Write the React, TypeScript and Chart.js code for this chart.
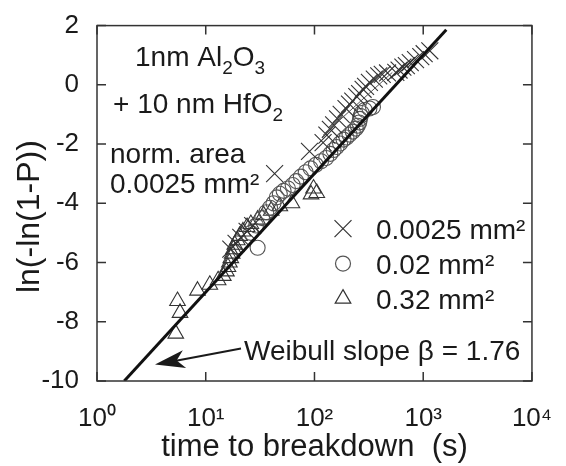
import React, { useEffect, useRef } from 'react';
import { Chart, registerables } from 'chart.js';

Chart.register(...registerables);

const FONT = '"Liberation Sans", Arial, Helvetica, sans-serif';
const INK = '#1a1a1a';

// axis ticks
const xTicks = [1, 10, 100, 1000, 10000];
const xTickLabels = ['10⁰', '10¹', '10²', '10³', '10⁴'];
const yTicks = [-10, -8, -6, -4, -2, 0, 2];

// legend labels
const seriesLabels = ['0.0025 mm²', '0.02 mm²', '0.32 mm²'];

// 0.0025 mm² (crosses)
const crossT = [17, 19, 21, 24, 27, 43, 90, 120, 130, 140, 150, 163, 176, 195, 210, 225, 245, 260, 280, 295, 320, 355, 390, 420, 470, 560, 600, 650, 700, 760, 850, 950, 1020, 1150];
const crossY = [-5.55, -5.35, -5.15, -4.95, -4.75, -3.0, -2.25, -1.95, -1.7, -1.5, -1.35, -1.15, -1.0, -0.8, -0.65, -0.55, -0.4, -0.3, -0.15, -0.05, 0.08, 0.19, 0.3, 0.35, 0.4, 0.42, 0.5, 0.6, 0.65, 0.75, 0.85, 0.95, 1.05, 1.15];

// 0.02 mm² (circles)
const circleT = [26, 29, 30, 33, 36, 39, 42, 45, 48, 52, 57, 63, 68, 75, 83, 92, 103, 115, 128, 140, 150, 160, 172, 185, 197, 210, 225, 240, 250, 258, 262, 266, 272, 290, 320, 345];
const circleY = [-5.0, -4.75, -5.5, -4.5, -4.3, -4.15, -4.0, -3.8, -3.68, -3.58, -3.5, -3.38, -3.25, -3.1, -2.95, -2.82, -2.7, -2.58, -2.47, -2.33, -2.2, -2.1, -1.98, -1.85, -1.78, -1.68, -1.58, -1.48, -1.38, -1.27, -1.15, -1.05, -0.95, -0.85, -0.8, -0.75];

// 0.32 mm² (triangles)
const triT = [5.3, 5.5, 5.8, 8.4, 10.9, 13, 14.5, 15.5, 16, 16.5, 17, 17.5, 18, 18.5, 19.5, 20.5, 22, 24, 26, 30, 34, 40, 48, 62, 93, 98, 105];
const triY = [-8.4, -7.3, -7.7, -6.95, -6.75, -6.6, -6.45, -6.3, -6.15, -6.0, -5.85, -5.7, -5.55, -5.4, -5.25, -5.1, -4.95, -4.8, -4.7, -4.55, -4.4, -4.25, -4.1, -4.0, -3.7, -3.5, -3.65];

// Weibull fit line (beta = 1.76) and thin line through the small-area data
const fitT = [1.78, 1630];
const fitY = [-10, 1.86];
const thinT = [120, 520];
const thinY = [-1.7, 0.42];

const pts = (t: number[], y: number[]) => t.map((v, i) => ({ x: v, y: y[i] }));

function drawSymbol(ctx: CanvasRenderingContext2D, style: string, x: number, y: number, r: number) {
  ctx.beginPath();
  if (style === 'crossRot') {
    const d = Math.cos(Math.PI / 4) * r;
    ctx.moveTo(x - d, y - d); ctx.lineTo(x + d, y + d);
    ctx.moveTo(x + d, y - d); ctx.lineTo(x - d, y + d);
  } else if (style === 'circle') {
    ctx.arc(x, y, r, 0, Math.PI * 2);
  } else {
    let a = 0;
    ctx.moveTo(x + Math.sin(a) * r, y - Math.cos(a) * r);
    a += (2 * Math.PI) / 3;
    ctx.lineTo(x + Math.sin(a) * r, y - Math.cos(a) * r);
    a += (2 * Math.PI) / 3;
    ctx.lineTo(x + Math.sin(a) * r, y - Math.cos(a) * r);
    ctx.closePath();
  }
  ctx.stroke();
}

function drawRich(ctx: CanvasRenderingContext2D, parts: [string, boolean][], x: number, y: number) {
  let cx = x;
  for (const [txt, sub] of parts) {
    ctx.font = sub ? `19px ${FONT}` : `28px ${FONT}`;
    ctx.fillText(txt, cx, y + (sub ? 8 : 0));
    cx += ctx.measureText(txt).width;
  }
}

const decorPlugin = {
  id: 'decor',
  afterDraw(chart: any) {
    const { ctx, chartArea: ca, scales } = chart;
    const xs = scales.x;
    const ys = scales.y;
    ctx.save();
    // frame
    ctx.strokeStyle = '#333';
    ctx.lineWidth = 1.5;
    ctx.strokeRect(ca.left, ca.top, ca.right - ca.left, ca.bottom - ca.top);
    // inward ticks
    ctx.beginPath();
    const TL = 9;
    for (const v of xTicks) {
      const px = xs.getPixelForValue(v);
      ctx.moveTo(px, ca.bottom); ctx.lineTo(px, ca.bottom - TL);
      ctx.moveTo(px, ca.top); ctx.lineTo(px, ca.top + TL);
    }
    for (const v of yTicks) {
      const py = ys.getPixelForValue(v);
      ctx.moveTo(ca.left, py); ctx.lineTo(ca.left + TL, py);
      ctx.moveTo(ca.right, py); ctx.lineTo(ca.right - TL, py);
    }
    ctx.stroke();

    // annotations
    ctx.fillStyle = INK;
    ctx.textAlign = 'left';
    ctx.textBaseline = 'alphabetic';
    const L = ca.left;
    const T = ca.top;
    drawRich(ctx, [['1nm Al', false], ['2', true], ['O', false], ['3', true]], L + 38, T + 40);
    drawRich(ctx, [['+ 10 nm HfO', false], ['2', true]], L + 16, T + 87);
    drawRich(ctx, [['norm. area', false]], L + 13, T + 137);
    drawRich(ctx, [['0.0025 mm²', false]], L + 13, T + 167);

    // legend
    const styles = ['crossRot', 'circle', 'triangle'];
    const radii = [12, 7.5, 9];
    const colors = ['#333', '#555', '#333'];
    for (let i = 0; i < 3; i++) {
      const cy = T + 203 + i * 35;
      ctx.strokeStyle = colors[i];
      ctx.lineWidth = 1.2;
      drawSymbol(ctx, styles[i], L + 246, cy, radii[i]);
      ctx.font = `28px ${FONT}`;
      ctx.fillText(seriesLabels[i], L + 279, cy + 10);
    }

    // Weibull annotation with arrow
    ctx.font = `28px ${FONT}`;
    ctx.fillText('Weibull slope β = 1.76', L + 147, T + 334);
    const tail = { x: L + 144, y: T + 323 };
    const tip = { x: L + 58, y: T + 339 };
    const dx = tip.x - tail.x;
    const dy = tip.y - tail.y;
    const len = Math.hypot(dx, dy);
    const ux = dx / len, uy = dy / len;
    const nx = -uy, ny = ux;
    ctx.strokeStyle = INK;
    ctx.lineWidth = 2;
    ctx.beginPath();
    ctx.moveTo(tail.x, tail.y);
    ctx.lineTo(tip.x - ux * 20, tip.y - uy * 20);
    ctx.stroke();
    ctx.beginPath();
    ctx.moveTo(tip.x, tip.y);
    ctx.lineTo(tip.x - ux * 30 + nx * 9, tip.y - uy * 30 + ny * 9);
    ctx.lineTo(tip.x - ux * 22, tip.y - uy * 22);
    ctx.lineTo(tip.x - ux * 30 - nx * 9, tip.y - uy * 30 - ny * 9);
    ctx.closePath();
    ctx.fill();
    ctx.restore();
  },
};

export default function App() {
  const ref = useRef<HTMLCanvasElement>(null);
  useEffect(() => {
    document.body.style.margin = '0';
    const canvas = ref.current!;
    const chart = new Chart(canvas, {
      type: 'scatter',
      data: {
        datasets: [
          {
            label: 'Weibull fit',
            data: pts(fitT, fitY),
            showLine: true,
            borderColor: '#111',
            borderWidth: 3,
            pointRadius: 0,
          },
          {
            label: 'fit small area',
            data: pts(thinT, thinY),
            showLine: true,
            borderColor: '#555',
            borderWidth: 1,
            pointRadius: 0,
          },
          {
            label: seriesLabels[0],
            data: pts(crossT, crossY),
            pointStyle: 'crossRot',
            pointRadius: 12,
            borderColor: '#333',
            borderWidth: 1.1,
            backgroundColor: 'transparent',
          },
          {
            label: seriesLabels[1],
            data: pts(circleT, circleY),
            pointStyle: 'circle',
            pointRadius: 7.5,
            borderColor: '#555',
            borderWidth: 1.1,
            backgroundColor: 'transparent',
          },
          {
            label: seriesLabels[2],
            data: pts(triT, triY),
            pointStyle: 'triangle',
            pointRadius: 9,
            borderColor: '#333',
            borderWidth: 1.1,
            backgroundColor: 'transparent',
          },
        ],
      },
      options: {
        responsive: false,
        animation: false,
        devicePixelRatio: 1,
        layout: { padding: { top: 23, right: 22, left: 0, bottom: 0 } },
        plugins: { legend: { display: false }, tooltip: { enabled: false } },
        scales: {
          x: {
            type: 'logarithmic',
            min: 1,
            max: 10000,
            afterBuildTicks: (s: any) => {
              s.ticks = xTicks.map((v) => ({ value: v }));
            },
            afterFit: (s: any) => {
              s.height = 85;
            },
            grid: { display: false },
            border: { display: false },
            ticks: {
              autoSkip: false,
              maxRotation: 0,
              padding: 14,
              color: INK,
              font: { family: FONT, size: 26 },
              callback: (v: any) => {
                const i = xTicks.indexOf(Number(v));
                return i >= 0 ? xTickLabels[i] : '';
              },
            },
            title: {
              display: true,
              text: 'time to breakdown  (s)',
              color: INK,
              font: { family: FONT, size: 31 },
              padding: { top: 0, bottom: 0 },
            },
          },
          y: {
            type: 'linear',
            min: -10,
            max: 2,
            afterBuildTicks: (s: any) => {
              s.ticks = yTicks.map((v) => ({ value: v }));
            },
            afterFit: (s: any) => {
              s.width = 97;
            },
            grid: { display: false },
            border: { display: false },
            ticks: {
              padding: 10,
              color: INK,
              font: { family: FONT, size: 26 },
            },
            title: {
              display: true,
              text: 'ln(-ln(1-P))   ',
              color: INK,
              font: { family: FONT, size: 32 },
              padding: { top: 11, bottom: 0 },
            },
          },
        },
      },
      plugins: [decorPlugin],
    });
    return () => chart.destroy();
  }, []);
  return <canvas ref={ref} width={566} height={466} style={{ display: 'block' }} />;
}
